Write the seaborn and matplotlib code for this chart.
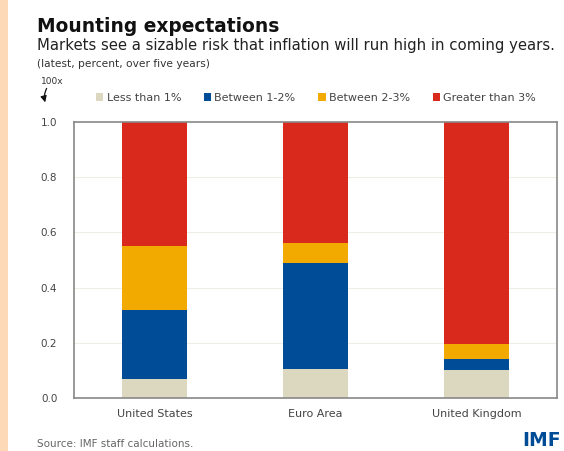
import numpy as np
import pandas as pd
import matplotlib
matplotlib.use("Agg")
import matplotlib.pyplot as plt
import seaborn as sns

categories = ["United States", "Euro Area", "United Kingdom"]
series_names = ["Less than 1%", "Between 1-2%", "Between 2-3%", "Greater than 3%"]
less_than_1 = [0.07, 0.105, 0.10]
between_1_2 = [0.25, 0.383, 0.04]
between_2_3 = [0.23, 0.072, 0.057]
greater_than_3 = [0.45, 0.44, 0.803]
yticks = [0.0, 0.2, 0.4, 0.6, 0.8, 1.0]
colors = ["#DCD8C0", "#004C97", "#F2A900", "#D9281C"]

sns.set_theme(style="white")
plt.rcParams["font.family"] = ["DejaVu Sans"]

W, H = 564, 451
fig = plt.figure(figsize=(W / 100, H / 100), dpi=100)
fig.patch.set_facecolor("white")
fig.patches.append(matplotlib.patches.Rectangle((0, 0), 8 / W, 1, transform=fig.transFigure,
                                                facecolor="#FDD9B8", edgecolor="none", zorder=0))

ax = fig.add_axes([74 / W, 53 / H, 483 / W, 276 / H])

series = [less_than_1, between_1_2, between_2_3, greater_than_3]
cum = np.cumsum(np.array(series), axis=0)
for i in range(len(series) - 1, -1, -1):
    df = pd.DataFrame({"cat": categories, "val": cum[i]})
    sns.barplot(data=df, x="cat", y="val", color=colors[i], width=0.4,
                saturation=1, ax=ax, zorder=2, edgecolor="none")

ax.set_ylim(0, 1.0)
ax.set_yticks(yticks)
ax.set_yticklabels([f"{t:.1f}" for t in yticks], fontsize=7.5, color="#444444")
ax.tick_params(axis="x", labelsize=8, colors="#444444", length=0, pad=8)
ax.tick_params(axis="y", length=0, pad=12)
ax.set_xlabel("")
ax.set_ylabel("")
for y in yticks[1:-1]:
    ax.axhline(y, color="#EEEEE6", lw=0.8, zorder=1)
for s in ax.spines.values():
    s.set_color("#888888")
    s.set_linewidth(1.2)

handles = [matplotlib.patches.Patch(facecolor=c, edgecolor="none") for c in colors]
fig.legend(handles, series_names, loc="center left", bbox_to_anchor=(96 / W, 1 - 98 / H),
           ncol=4, frameon=False, fontsize=8, handlelength=0.65, handleheight=0.65,
           handletextpad=0.3, columnspacing=2.05, borderaxespad=0, borderpad=0,
           labelcolor="#444444")

fig.text(37 / W, 1 - 32 / H, "Mounting expectations", fontsize=13.4, fontweight="bold",
         color="#111111", va="baseline", ha="left")
fig.text(37 / W, 1 - 50 / H,
         "Markets see a sizable risk that inflation will run high in coming years.",
         fontsize=10.75, color="#222222", va="baseline", ha="left")
fig.text(37 / W, 1 - 67 / H, "(latest, percent, over five years)", fontsize=7.7,
         color="#333333", va="baseline", ha="left")
fig.text(41 / W, 1 - 81 / H, "100x", fontsize=6.5, color="#333333", va="center", ha="left")
fig.add_artist(matplotlib.patches.FancyArrowPatch(
    (48 / W, 1 - 86 / H), (46 / W, 1 - 105 / H), transform=fig.transFigure,
    arrowstyle="-|>", mutation_scale=9, lw=0.9, color="#111111",
    connectionstyle="arc3,rad=0.25"))

fig.text(37 / W, 1 - 447 / H, "Source: IMF staff calculations.", fontsize=7.5,
         color="#666666", va="baseline", ha="left")
fig.text(561 / W, 1 - 450 / H, "IMF", fontsize=13.5, fontweight="bold",
         color="#004C97", va="bottom", ha="right")

fig.savefig("out.png", dpi=100)
